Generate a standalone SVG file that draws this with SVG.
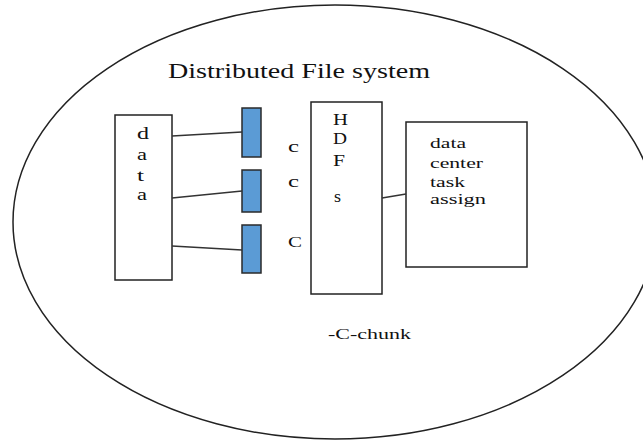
<svg xmlns="http://www.w3.org/2000/svg" width="643" height="441" viewBox="0 0 643 441">
<style>
.box{fill:#fff;stroke:#222;stroke-width:1.5}
.chunk{fill:#5b9bd5;stroke:#2a2a2a;stroke-width:1.5}
.ln{stroke:#333;stroke-width:1.5;fill:none}
text{font-family:"Liberation Serif","Times New Roman",serif;fill:#111}
</style>
<rect width="643" height="441" fill="#fff"/>
<ellipse cx="335" cy="222" rx="322" ry="217" fill="none" stroke="#222" stroke-width="1.5"/>
<text x="168" y="78" font-size="20" textLength="262" lengthAdjust="spacingAndGlyphs">Distributed File system</text>
<g id="data">
<rect class="box" x="115" y="115" width="57" height="165"/>
<text x="137" y="139" font-size="16" textLength="12" lengthAdjust="spacingAndGlyphs">d</text>
<text x="137" y="160" font-size="16" textLength="10" lengthAdjust="spacingAndGlyphs">a</text>
<text x="137" y="181" font-size="16" textLength="7" lengthAdjust="spacingAndGlyphs">t</text>
<text x="137" y="200" font-size="16" textLength="10" lengthAdjust="spacingAndGlyphs">a</text>
</g>
<g id="chunk1"><rect class="chunk" x="242" y="108" width="19" height="49"/></g>
<g id="chunk2"><rect class="chunk" x="242" y="170" width="19" height="42"/></g>
<g id="chunk3"><rect class="chunk" x="242" y="225" width="19" height="48"/></g>
<g id="labels">
<text x="288" y="152" font-size="16" textLength="11" lengthAdjust="spacingAndGlyphs">c</text>
<text x="288" y="187" font-size="16" textLength="11" lengthAdjust="spacingAndGlyphs">c</text>
<text x="288" y="247" font-size="15" textLength="14" lengthAdjust="spacingAndGlyphs">C</text>
</g>
<g id="hdfs">
<rect class="box" x="311" y="102" width="71" height="192"/>
<text x="333" y="125" font-size="16" textLength="15" lengthAdjust="spacingAndGlyphs">H</text>
<text x="333" y="144" font-size="16" textLength="14" lengthAdjust="spacingAndGlyphs">D</text>
<text x="333" y="166" font-size="16" textLength="12" lengthAdjust="spacingAndGlyphs">F</text>
<text x="334" y="202" font-size="16" textLength="7" lengthAdjust="spacingAndGlyphs">s</text>
</g>
<g id="datacenter">
<rect class="box" x="406" y="122" width="121" height="145"/>
<text x="430" y="148" font-size="15" textLength="36" lengthAdjust="spacingAndGlyphs">data</text>
<text x="430" y="168" font-size="15" textLength="53" lengthAdjust="spacingAndGlyphs">center</text>
<text x="430" y="187" font-size="15" textLength="35" lengthAdjust="spacingAndGlyphs">task</text>
<text x="430" y="204" font-size="15" textLength="56" lengthAdjust="spacingAndGlyphs">assign</text>
</g>
<g id="connectors">
<line class="ln" x1="172" y1="136" x2="242" y2="132"/>
<line class="ln" x1="172" y1="198" x2="242" y2="191"/>
<line class="ln" x1="172" y1="246" x2="242" y2="250"/>
<line class="ln" x1="382" y1="198" x2="406" y2="194"/>
</g>
<text x="328" y="339" font-size="15" textLength="83" lengthAdjust="spacingAndGlyphs">-C-chunk</text>
</svg>
